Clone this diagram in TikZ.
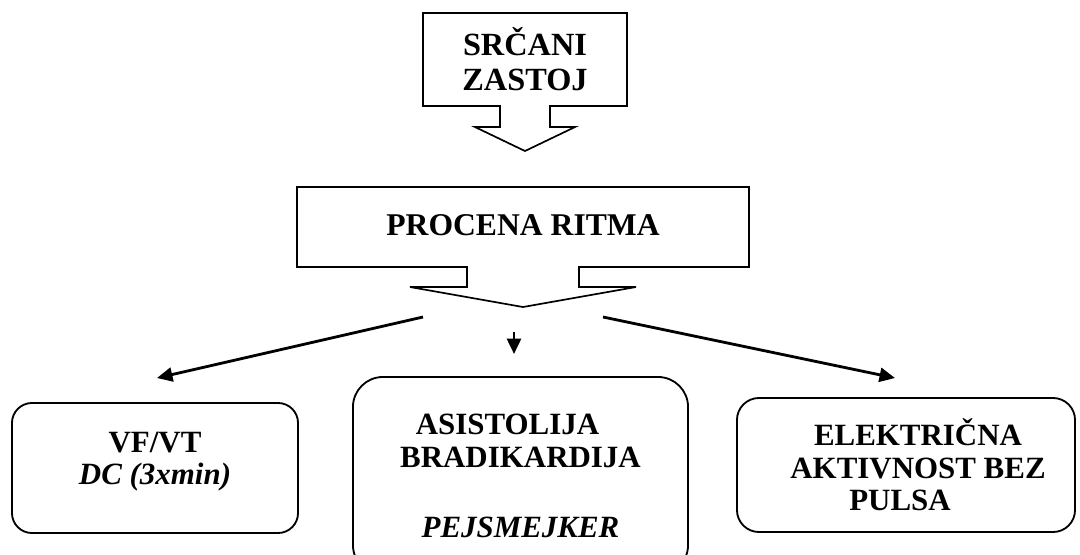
\documentclass[tikz,border=0pt]{standalone}
\usepackage{fontspec}
\setmainfont{Liberation Serif}
\usetikzlibrary{arrows.meta,calc}

\tikzset{
  callbox/.style={inner sep=0pt, outer sep=0pt, align=center},
  callout/.style={line width=1.2pt, line join=miter},
  choicebox/.style={draw, line width=1.3pt, inner sep=0pt, outer sep=0pt, align=center,
    font=\bfseries\fontsize{22}{23}\selectfont},
  pointer/.style={line width=2pt, -{Triangle[length=11pt,width=10pt]}}
}

\begin{document}
\begin{tikzpicture}[x=0.025cm, y=-0.025cm]
    \clip (0,0) rectangle (1080,554);

    % top callout
    \node[callbox, minimum width=5.1cm, minimum height=2.325cm,
      font=\bfseries\fontsize{23}{25}\selectfont] (zastoj) at (525,59.5) {SRČANI\\ZASTOJ};
    \draw[callout] (zastoj.south west) -- (zastoj.north west) -- (zastoj.north east)
      -- (zastoj.south east) -- ($(zastoj.south)+(25,0)$) -- ++(0,21) -- ++(25,0)
      -- ($(zastoj.south)+(0,45)$) -- ($(zastoj.south)+(-50,21)$) -- ++(25,0)
      -- ++(0,-21) -- cycle;

    % second callout
    \node[callbox, minimum width=11.3cm, minimum height=2cm,
      font=\bfseries\fontsize{22.5}{24}\selectfont] (ritam) at (523,227) {\raisebox{3pt}{PROCENA RITMA}};
    \draw[callout] (ritam.south west) -- (ritam.north west) -- (ritam.north east)
      -- (ritam.south east) -- ($(ritam.south)+(56,0)$) -- ++(0,20) -- ++(57,0)
      -- ($(ritam.south)+(0,40)$) -- ($(ritam.south)+(-113,20)$) -- ++(57,0)
      -- ++(0,-20) -- cycle;

    % three outcomes
    \node[choicebox, rounded corners=0.5cm, minimum width=7.15cm, minimum height=3.25cm]
      (vfvt) at (155,468) {VF/VT\\\textit{DC (3xmin)}\\[-9pt]~};
    \node[choicebox, rounded corners=0.75cm, minimum width=8.375cm, minimum height=4.95cm]
      (asist) at (520.5,476) {ASISTOLIJA\hspace*{0.65cm}\\BRADIKARDIJA\hspace*{0.65cm}\\[27pt]\textit{PEJSMEJKER}};
    \node[choicebox, rounded corners=0.55cm, minimum width=8.45cm, minimum height=3.35cm]
      (eabp) at (906,465) {\hspace*{0.6cm}ELEKTRIČNA\\\hspace*{0.6cm}AKTIVNOST BEZ\\PULSA\hspace*{0.3cm}};

    \coordinate (fromL) at (423,317);
    \coordinate (toL) at (157,378);
    \coordinate (fromM) at (514,332);
    \coordinate (toM) at (514,354);
    \coordinate (fromR) at (603,317);
    \coordinate (toR) at (895,378);

    \draw[pointer] (fromL) -- (toL);
    \draw[pointer] (fromM) -- (toM);
    \draw[pointer] (fromR) -- (toR);
\end{tikzpicture}
\end{document}
